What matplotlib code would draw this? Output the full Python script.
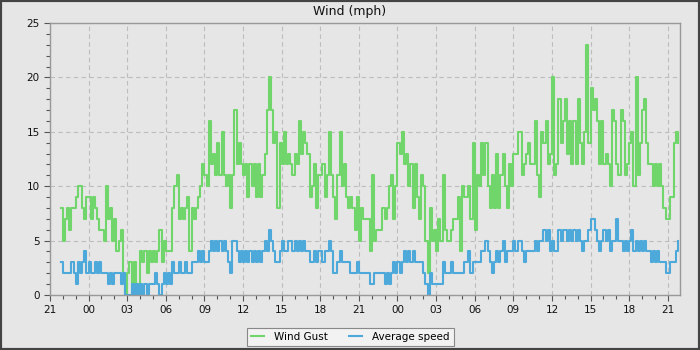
import matplotlib
matplotlib.use("Agg")
import matplotlib.pyplot as plt
import numpy as np

# 10-minute samples, first one at 21:50 (hours counted from 21:00 on day 1)
start_hour = 50 / 60.0
step_hour = 10 / 60.0

gust = [
    8, 5, 7, 8, 6, 8, 8, 9, 10, 10, 8, 7, 9, 9, 7, 9, 8, 7, 6, 6, 5, 10, 7, 8, 5, 7, 4, 5, 6, 2, 0,
    2, 3, 1, 3, 0, 1, 4, 3, 4, 2, 4, 3, 4, 3, 4, 6, 3, 5, 4, 4, 4, 8, 10, 11, 7, 8, 7, 8, 9, 4, 8, 7, 8, 9, 10, 12, 11,
    10, 16, 12, 13, 11, 14, 11, 15, 11, 10, 11, 8, 11, 17, 12, 14, 12, 11, 12, 9, 12, 10, 12, 9, 12, 9, 11, 13, 17, 20, 17, 14, 15, 8, 14, 12, 15,
    12, 13, 12, 11, 13, 12, 16, 13, 15, 14, 13, 9, 10, 12, 8, 11, 11, 12, 9, 11, 15, 11, 9, 7, 11, 15, 10, 12, 9, 8, 9, 8, 6, 9, 5, 8,
    7, 7, 7, 4, 11, 5, 6, 6, 6, 8, 7, 8, 10, 11, 7, 10, 14, 13, 15, 12, 13, 10, 12, 8, 12, 9, 7, 11, 10, 5, 2, 8, 5, 6, 4, 7,
    5, 11, 6, 5, 5, 6, 7, 7, 9, 4, 10, 9, 9, 10, 7, 14, 6, 11, 10, 14, 11, 14, 10, 8, 11, 8, 13, 8, 11, 13, 10, 8, 12, 10, 13, 13, 15,
    15, 11, 12, 13, 14, 12, 12, 16, 11, 9, 15, 14, 16, 12, 13, 20, 11, 12, 18, 14, 16, 18, 13, 16, 12, 16, 12, 18, 14, 12, 15, 23, 14, 19, 17, 18,
    16, 12, 16, 12, 13, 12, 10, 17, 16, 12, 11, 17, 16, 11, 12, 14, 15, 10, 20, 11, 14, 17, 18, 14, 12, 12, 10, 12, 10, 12, 10, 8, 7, 7, 9, 9, 14, 15, 14,
]

avg_speed = [
    3, 2, 2, 2, 2, 3, 2, 1, 3, 2, 3, 4, 2, 3, 2, 2, 3, 2, 3, 2, 2, 2, 1, 2, 1, 2, 2, 2, 1, 2, 0,
    0, 0, 1, 0, 1, 0, 1, 0, 1, 0, 1, 1, 1, 2, 1, 0, 1, 2, 1, 2, 1, 3, 2, 2, 3, 2, 2, 3, 2, 2, 3, 3, 3, 4, 3, 4, 3,
    3, 4, 5, 4, 5, 4, 5, 4, 5, 4, 3, 2, 5, 5, 4, 3, 4, 3, 4, 3, 4, 3, 4, 3, 4, 3, 4, 5, 4, 6, 5, 4, 3, 3, 4, 5, 4,
    4, 5, 5, 4, 5, 4, 5, 4, 5, 4, 4, 3, 3, 4, 3, 4, 4, 3, 4, 4, 5, 4, 2, 2, 3, 4, 3, 3, 3, 3, 2, 2, 2, 3, 2, 2,
    2, 2, 2, 1, 1, 2, 2, 2, 2, 2, 1, 2, 1, 2, 3, 2, 3, 2, 3, 4, 3, 4, 3, 4, 3, 3, 3, 3, 2, 1, 0, 2, 1, 1, 1, 1,
    1, 3, 2, 2, 2, 3, 2, 2, 2, 2, 2, 3, 3, 4, 2, 3, 3, 3, 3, 4, 4, 5, 4, 3, 2, 3, 4, 3, 4, 5, 3, 4, 4, 4, 5, 4, 5,
    5, 4, 3, 4, 4, 4, 4, 5, 4, 5, 5, 6, 5, 6, 4, 5, 4, 4, 6, 5, 6, 6, 5, 6, 5, 6, 5, 6, 5, 4, 5, 5, 6, 7, 7, 6,
    5, 4, 5, 6, 5, 6, 4, 5, 5, 7, 5, 5, 4, 5, 4, 5, 6, 4, 5, 4, 5, 4, 5, 4, 4, 3, 4, 3, 4, 3, 3, 3, 2, 2, 3, 3, 3, 4, 5,
]

tick_labels = ["21", "00", "03", "06", "09", "12", "15", "18"] * 2 + ["21"]

bg = "#e6e6e6"
gust_color = "#70d56b"
avg_color = "#4ca9d9"

t = start_hour + step_hour * np.arange(len(gust))

fig = plt.figure(figsize=(7, 3.5), dpi=100, facecolor=bg)
ax = fig.add_axes([50 / 700, 55 / 350, 630 / 700, 272 / 350], facecolor=bg)

ax.step(t, gust, where="post", color=gust_color, lw=1.5, label="Wind Gust")
ax.step(t, avg_speed, where="post", color=avg_color, lw=1.5, label="Average speed")

ax.set_xlim(0, 48.95)
ax.set_ylim(0, 25)
ax.set_xticks(np.arange(0, 49, 3))
ax.set_xticklabels(tick_labels)
ax.set_xticks(np.arange(0, 49, 1), minor=True)
ax.set_yticks([0, 5, 10, 15, 20, 25])
ax.set_yticks(np.arange(0, 26, 1), minor=True)
ax.tick_params(which="both", direction="out", colors="#555555", labelcolor="#111111", labelsize=7.5, width=0.8)
ax.tick_params(which="major", length=4)
ax.tick_params(which="minor", length=3)
ax.grid(True, which="major", ls=(0, (4, 3)), color="#bdbdbd", lw=0.8)
ax.set_axisbelow(True)
for s in ax.spines.values():
    s.set_color("#999999")
    s.set_linewidth(1)

fig.text(0.5, 1 - 11 / 350, "Wind (mph)", ha="center", va="center", fontsize=9, color="#111111")

leg = fig.legend(loc="center", bbox_to_anchor=(350.5 / 700, 13 / 350), ncol=2, fontsize=7.5,
                 handlelength=1.2, handletextpad=1.0, columnspacing=2.0, fancybox=False,
                 framealpha=1, borderpad=0.4)
leg.get_frame().set_facecolor("#f2f2f2")
leg.get_frame().set_edgecolor("#888888")
leg.get_frame().set_linewidth(0.8)

# dark outer frame
fig.patches.append(plt.Rectangle((0, 0), 1, 1, transform=fig.transFigure, fill=False,
                                 edgecolor="#444444", lw=3))

fig.savefig("out.png", dpi=100, facecolor=bg)
